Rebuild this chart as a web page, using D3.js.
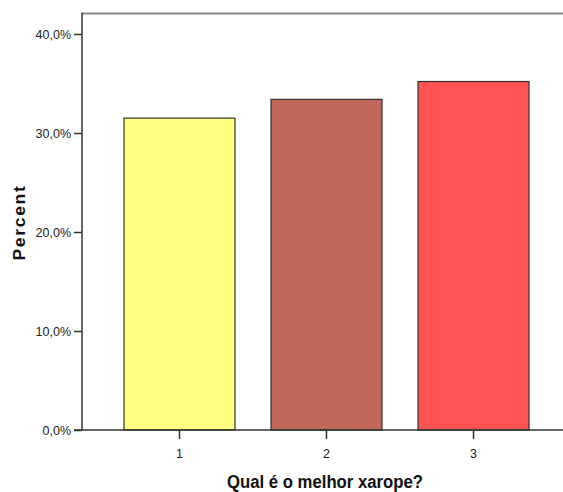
<!DOCTYPE html>
<html>
<head>
<meta charset="utf-8">
<script src="https://cdn.jsdelivr.net/npm/d3@7/dist/d3.min.js"></script>
<style>
  html, body { margin: 0; padding: 0; background: #fff; }
  svg { display: block; }
</style>
</head>
<body>
<script>
const categories = ["1", "2", "3"];
const percents = [31.5, 33.4, 35.2];
const barColors = ["#FFFF80", "#C1685B", "#FF5252"];
const yTicks = [0, 10, 20, 30, 40];
const xTitle = "Qual é o melhor xarope?";
const yTitle = "Percent";

const W = 563, H = 492;
const svg = d3.select("body").append("svg").attr("width", W).attr("height", H);

const plotLeft = 82, plotRight = 571, plotTop = 13.5, plotBottom = 430;

const x = d3.scaleBand().domain(categories).range([plotLeft, plotRight]).paddingInner(0.245).paddingOuter(0.2857);
const y = d3.scaleLinear().domain([0, 40]).range([plotBottom, 34]);

// top frame line
svg.append("line").attr("x1", plotLeft).attr("x2", W).attr("y1", plotTop).attr("y2", plotTop)
  .attr("stroke", "#8a8a8a").attr("stroke-width", 2);

// bars
svg.selectAll("rect.bar").data(categories).enter().append("rect")
  .attr("class", "bar")
  .attr("x", d => x(d))
  .attr("width", x.bandwidth())
  .attr("y", (d, i) => y(percents[i]))
  .attr("height", (d, i) => plotBottom - y(percents[i]))
  .attr("fill", (d, i) => barColors[i])
  .attr("stroke", "#333")
  .attr("stroke-width", 1.2);

// y axis
const yAxis = d3.axisLeft(y).tickValues(yTicks).tickSize(8).tickPadding(3)
  .tickFormat(d => d3.format(".1f")(d).replace(".", ",") + "%");
const gy = svg.append("g").attr("transform", `translate(${plotLeft},0)`).call(yAxis);
gy.select(".domain").remove();
gy.selectAll(".tick line").attr("stroke", "#333").attr("stroke-width", 1.5);
gy.selectAll(".tick text").attr("font-family", "Liberation Sans, Arial, sans-serif")
  .attr("font-size", 12.5).attr("fill", "#222");
svg.append("line").attr("x1", plotLeft).attr("x2", plotLeft).attr("y1", plotTop - 1).attr("y2", plotBottom)
  .attr("stroke", "#333").attr("stroke-width", 1.5);

// x axis
const xAxis = d3.axisBottom(x).tickSize(9).tickPadding(10);
const gx = svg.append("g").attr("transform", `translate(0,${plotBottom})`).call(xAxis);
gx.select(".domain").remove();
gx.selectAll(".tick line").attr("stroke", "#333").attr("stroke-width", 1.5);
gx.selectAll(".tick text").attr("font-family", "Liberation Sans, Arial, sans-serif")
  .attr("font-size", 12.5).attr("fill", "#222");
svg.append("line").attr("x1", plotLeft - 8).attr("x2", W).attr("y1", plotBottom).attr("y2", plotBottom)
  .attr("stroke", "#333").attr("stroke-width", 1.5);

// titles
svg.append("text").attr("x", 325).attr("y", 488).attr("text-anchor", "middle")
  .attr("font-family", "Liberation Sans, Arial, sans-serif").attr("font-weight", "bold")
  .attr("font-size", 18).attr("fill", "#111")
  .attr("textLength", 196).attr("lengthAdjust", "spacingAndGlyphs").text(xTitle);
svg.append("text").attr("transform", "translate(25,222.5) rotate(-90)").attr("text-anchor", "middle")
  .attr("font-family", "Liberation Sans, Arial, sans-serif").attr("font-weight", "bold")
  .attr("font-size", 16).attr("letter-spacing", 1.5).attr("fill", "#111")
  .attr("textLength", 76).attr("lengthAdjust", "spacingAndGlyphs").text(yTitle);
</script>
</body>
</html>
